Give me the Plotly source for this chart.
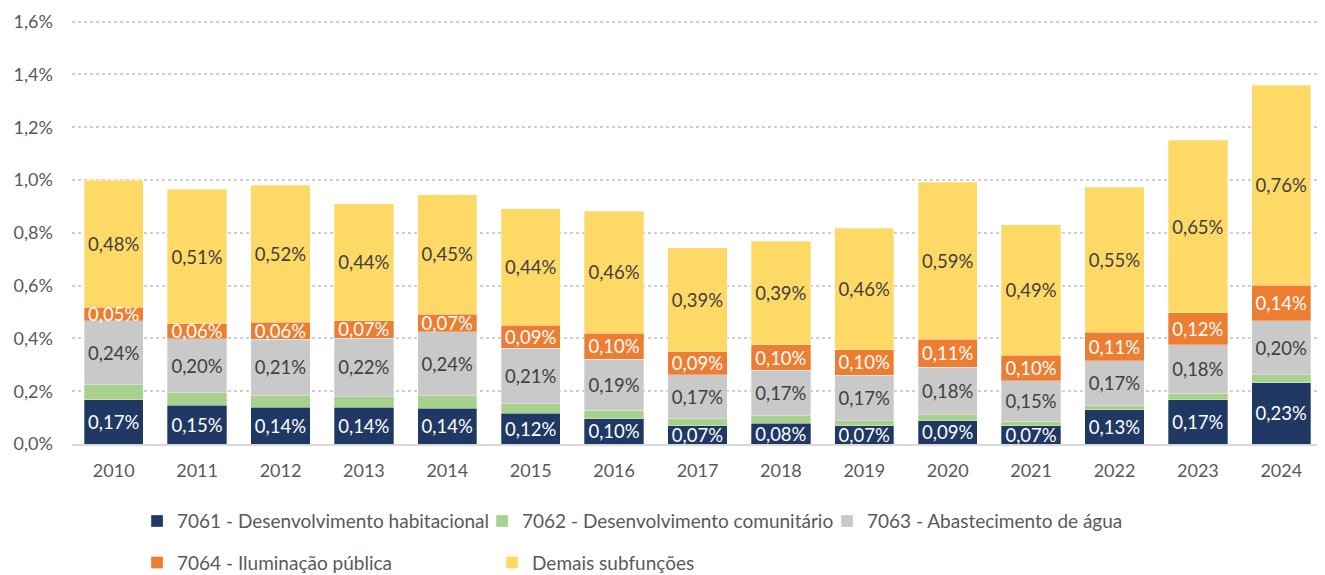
import numpy as np
import plotly.graph_objects as go

years = ["2010", "2011", "2012", "2013", "2014", "2015", "2016", "2017",
         "2018", "2019", "2020", "2021", "2022", "2023", "2024"]

# values in percent
habitacional = [0.167, 0.147, 0.140, 0.139, 0.136, 0.117, 0.096, 0.070,
                0.078, 0.069, 0.088, 0.069, 0.129, 0.167, 0.232]
comunitario = [0.057, 0.048, 0.043, 0.040, 0.046, 0.035, 0.032, 0.025,
               0.029, 0.019, 0.022, 0.018, 0.016, 0.025, 0.030]
agua = [0.242, 0.204, 0.214, 0.222, 0.243, 0.210, 0.194, 0.168,
        0.172, 0.173, 0.180, 0.153, 0.170, 0.184, 0.204]
iluminacao = [0.053, 0.056, 0.064, 0.066, 0.067, 0.087, 0.097, 0.087,
              0.097, 0.096, 0.107, 0.097, 0.108, 0.121, 0.136]
demais = [0.480, 0.510, 0.520, 0.443, 0.452, 0.442, 0.463, 0.394,
          0.393, 0.460, 0.594, 0.493, 0.550, 0.653, 0.757]

series = [
    ("7061 - Desenvolvimento habitacional", habitacional, "#203864", "#FFFFFF", True, "legend"),
    ("7062 - Desenvolvimento comunitário", comunitario, "#A9D18E", None, False, "legend"),
    ("7063 - Abastecimento de água", agua, "#C9C9C9", "#404040", True, "legend"),
    ("7064 - Iluminação pública", iluminacao, "#ED7D31", "#FFFFFF", True, "legend2"),
    ("Demais subfunções", demais, "#FFD966", "#404040", True, "legend2"),
]

FONT = "Lato"
fig = go.Figure()
for name, vals, color, tcolor, show, leg in series:
    y = np.array(vals) / 100.0
    fig.add_trace(go.Bar(
        x=years, y=y, name=name, legend=leg,
        marker=dict(color=color, line=dict(color="rgba(255,255,255,0.6)", width=0.5)),
        texttemplate="%{y:.2%}" if show else None,
        textposition="inside" if show else "none",
        insidetextanchor="middle",
        textangle=0,
        constraintext="none",
        textfont=dict(family=FONT, size=18.5, color=tcolor if tcolor else "#404040"),
        hoverinfo="skip",
    ))

# page body has an 8px default margin, so the figure is sized/positioned to compensate
fig.update_layout(
    width=1317, height=567,
    barmode="stack",
    bargap=0.29,
    separators=",.",
    plot_bgcolor="white",
    paper_bgcolor="white",
    margin=dict(l=64, r=2, t=11, b=131, autoexpand=False),
    font=dict(family=FONT, size=18, color="#595959"),
    showlegend=True,
    legend=dict(orientation="h", x=0.052, xanchor="left",
                yref="container", y=0.095, yanchor="middle",
                entrywidth=300, font=dict(family=FONT, size=19, color="#595959"),
                traceorder="normal", itemclick=False),
    legend2=dict(orientation="h", x=0.052, xanchor="left",
                 yref="container", y=0.022, yanchor="middle",
                 entrywidth=310, font=dict(family=FONT, size=19, color="#595959"),
                 traceorder="normal", itemclick=False),
)
fig.update_yaxes(
    range=[0, 0.0161], dtick=0.002, tickformat=".1%",
    showgrid=True, gridcolor="#D0D0D0", griddash="dot", gridwidth=1.5,
    zeroline=False, showline=False, ticks="", automargin=False,
    tickfont=dict(family=FONT, size=18, color="#595959"),
    ticklabelstandoff=18,
)
fig.update_xaxes(
    showline=True, linecolor="#D9D9D9", linewidth=2, ticks="", automargin=False,
    tickfont=dict(family=FONT, size=18, color="#595959"),
    ticklabelstandoff=9,
)

fig.write_html("out.html")
